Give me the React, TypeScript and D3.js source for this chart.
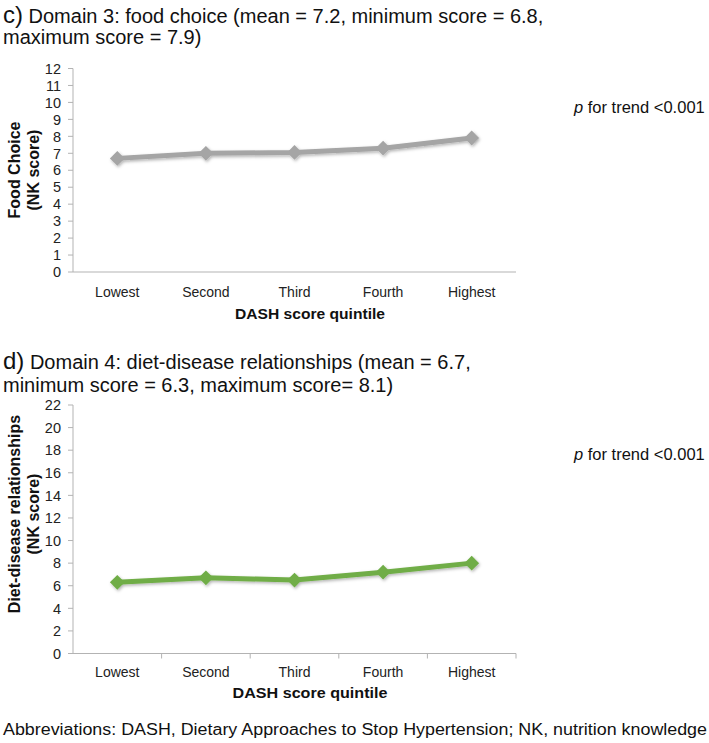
import React from "react";
import * as d3 from "d3";

const categories = ["Lowest", "Second", "Third", "Fourth", "Highest"];
const foodChoice = [6.7, 7.0, 7.05, 7.3, 7.9];
const dietDisease = [6.3, 6.7, 6.5, 7.2, 8.0];
const ticksC = [0, 1, 2, 3, 4, 5, 6, 7, 8, 9, 10, 11, 12];
const ticksD = [0, 2, 4, 6, 8, 10, 12, 14, 16, 18, 20, 22];

const FONT = "'Liberation Sans', Arial, Helvetica, sans-serif";

type PanelProps = {
  values: number[];
  ticks: number[];
  yMax: number;
  top: number;
  bottom: number;
  color: string;
  xTicks: boolean;
  yTitle: string[];
  yTitleMid: number;
  xTitle: string;
  xTitleLen: number;
  xTitleBaseline: number;
  catBaseline: number;
  pBaseline: number;
  filterId: string;
};

function Panel(p: PanelProps) {
  const left = 73;
  const right = 516;
  const x = d3.scaleBand<string>().domain(categories).range([left, right]);
  const y = d3.scaleLinear().domain([0, p.yMax]).range([p.bottom, p.top]);
  const line = d3
    .line<number>()
    .x((_, i) => (x(categories[i]) as number) + x.bandwidth() / 2)
    .y((v) => y(v));
  const diamond = d3.symbol().type(d3.symbolDiamond2).size(140)() as string;
  const axisColor = "#b3b3b3";
  return (
    <g>
      <line x1={left} x2={left} y1={p.top} y2={p.bottom} stroke={axisColor} strokeWidth={1} />
      {p.ticks.map((t) => (
        <g key={t}>
          <line x1={left - 5} x2={left} y1={y(t)} y2={y(t)} stroke={axisColor} strokeWidth={1} />
          <text x={61} y={y(t)} dy="0.36em" textAnchor="end" fontSize={14.5} fontFamily={FONT} fill="#222">
            {t}
          </text>
        </g>
      ))}
      <line x1={left} x2={right} y1={p.bottom} y2={p.bottom} stroke={axisColor} strokeWidth={1} />
      {p.xTicks &&
        categories.map((c, i) =>
          i === 0 ? null : (
            <line
              key={c}
              x1={x(c) as number}
              x2={x(c) as number}
              y1={p.bottom}
              y2={p.bottom + 5}
              stroke={axisColor}
              strokeWidth={1}
            />
          )
        )}
      {p.xTicks && (
        <line x1={right} x2={right} y1={p.bottom} y2={p.bottom + 5} stroke={axisColor} strokeWidth={1} />
      )}
      {categories.map((c) => (
        <text
          key={c}
          x={(x(c) as number) + x.bandwidth() / 2}
          y={p.catBaseline}
          textAnchor="middle"
          fontSize={14}
          fontFamily={FONT}
          fill="#222"
        >
          {c}
        </text>
      ))}
      <text
        x={310}
        y={p.xTitleBaseline}
        textAnchor="middle"
        fontSize={15.5}
        fontWeight="bold"
        fontFamily={FONT}
        fill="#111"
        textLength={p.xTitleLen}
        lengthAdjust="spacingAndGlyphs"
      >
        {p.xTitle}
      </text>
      {p.yTitle.map((t, i) => (
        <text
          key={i}
          transform={`translate(${20 + i * 19},${p.yTitleMid}) rotate(-90)`}
          textAnchor="middle"
          fontSize={16}
          fontWeight="bold"
          fontFamily={FONT}
          fill="#111"
        >
          {t}
        </text>
      ))}
      <g filter={`url(#${p.filterId})`}>
        <path d={line(p.values) as string} fill="none" stroke={p.color} strokeWidth={5} strokeLinejoin="round" />
        {p.values.map((v, i) => (
          <path
            key={i}
            d={diamond}
            transform={`translate(${(x(categories[i]) as number) + x.bandwidth() / 2},${y(v)})`}
            fill={p.color}
          />
        ))}
      </g>
      <text x={574} y={p.pBaseline} fontSize={16.5} fontFamily={FONT} fill="#111">
        <tspan fontStyle="italic">p</tspan> for trend &lt;0.001
      </text>
    </g>
  );
}

export default function App() {
  return (
    <div style={{ position: "absolute", left: 0, top: 0 }}>
      <svg width={709} height={743} style={{ display: "block", background: "#fff" }}>
        <defs>
          <filter id="shC" x="-20%" y="-50%" width="140%" height="200%">
            <feDropShadow dx={1} dy={1.5} stdDeviation={1.5} floodColor="#000" floodOpacity={0.3} />
          </filter>
          <filter id="shD" x="-20%" y="-50%" width="140%" height="200%">
            <feDropShadow dx={1} dy={1.5} stdDeviation={1.5} floodColor="#000" floodOpacity={0.3} />
          </filter>
        </defs>
        <text x={3} y={23} fontSize={20} fontFamily={FONT} fill="#111">
          <tspan fontSize={24}>c)</tspan> Domain 3: food choice (mean = 7.2, minimum score = 6.8,
        </text>
        <text x={3} y={44} fontSize={20} fontFamily={FONT} fill="#111">
          maximum score = 7.9)
        </text>
        <Panel
          values={foodChoice}
          ticks={ticksC}
          yMax={12}
          top={68.5}
          bottom={272}
          color="#a5a5a5"
          xTicks={false}
          yTitle={["Food Choice", "(NK score)"]}
          yTitleMid={170}
          xTitle="DASH score quintile"
          xTitleLen={150}
          xTitleBaseline={319}
          catBaseline={297}
          pBaseline={113}
          filterId="shC"
        />
        <text x={3} y={369} fontSize={20} fontFamily={FONT} fill="#111">
          <tspan fontSize={24}>d)</tspan> Domain 4: diet-disease relationships (mean = 6.7,
        </text>
        <text x={3} y={392} fontSize={20} fontFamily={FONT} fill="#111">
          minimum score = 6.3, maximum score= 8.1)
        </text>
        <Panel
          values={dietDisease}
          ticks={ticksD}
          yMax={22}
          top={405}
          bottom={653.5}
          color="#70ad47"
          xTicks={true}
          yTitle={["Diet-disease relationships", "(NK score)"]}
          yTitleMid={514}
          xTitle="DASH  score quintile"
          xTitleLen={155}
          xTitleBaseline={698}
          catBaseline={677}
          pBaseline={460}
          filterId="shD"
        />
        <text x={3} y={735} fontSize={16} fontFamily={FONT} fill="#111" textLength={704} lengthAdjust="spacingAndGlyphs">
          Abbreviations: DASH, Dietary Approaches to Stop Hypertension; NK, nutrition knowledge
        </text>
      </svg>
    </div>
  );
}
